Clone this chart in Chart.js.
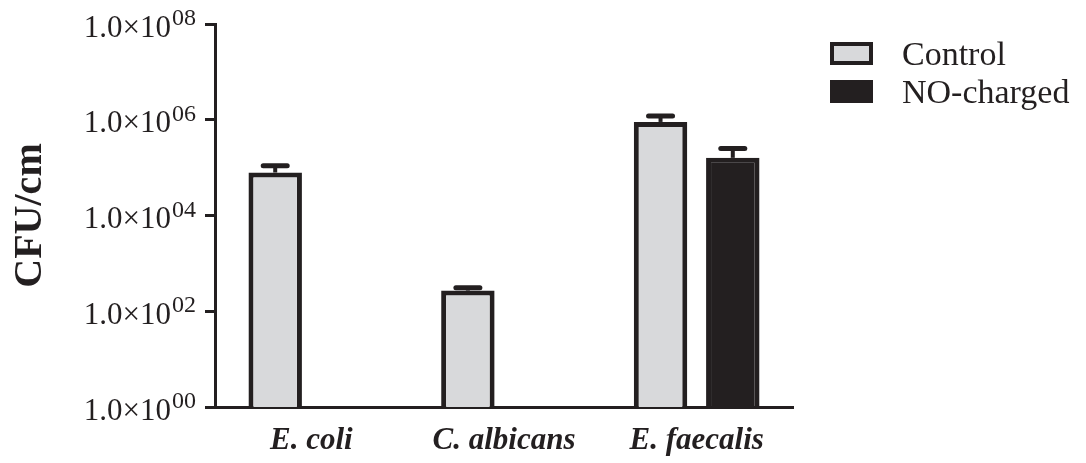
<!DOCTYPE html>
<html>
<head>
<meta charset="utf-8">
<script src="https://cdn.jsdelivr.net/npm/chart.js@4.4.1/dist/chart.umd.min.js"></script>
<style>
  html, body { margin: 0; padding: 0; background: #ffffff; }
  #wrap { width: 1086px; height: 463px; position: relative; }
</style>
</head>
<body>
<div id="wrap"><canvas id="chart"></canvas></div>
<script>
// Colony counts per cm (mean and error) for each organism
const categories = ['E. coli', 'C. albicans', 'E. faecalis'];
const seriesNames = ['Control', 'NO-charged'];
const controlMean = [7.9e4, 270, 9.0e5];
const controlErr = [3.1e4, 40, 3.0e5];
const noChargedMean = [null, null, 1.6e5];
const noChargedErr = [null, null, 9.0e4];
const tickValues = [1, 1e2, 1e4, 1e6, 1e8];
const tickExponents = ['00', '02', '04', '06', '08'];

const INK = '#231f20';
const GREY = '#d8d9db';
const SERIF = '"Liberation Serif", "Times New Roman", serif';

Chart.defaults.font.family = SERIF;
Chart.defaults.color = INK;

// Upper error whiskers with a rounded cap
const errorBars = {
  id: 'errorBars',
  afterDatasetsDraw(chart) {
    const ctx = chart.ctx;
    const ys = chart.scales.y;
    [controlErr, noChargedErr].forEach((errs, di) => {
      const meta = chart.getDatasetMeta(di);
      const means = chart.data.datasets[di].data;
      meta.data.forEach((bar, i) => {
        if (means[i] == null || errs[i] == null) return;
        const yTop = ys.getPixelForValue(means[i] + errs[i]);
        ctx.save();
        ctx.strokeStyle = INK;
        ctx.lineWidth = 4;
        ctx.beginPath();
        ctx.moveTo(bar.x, bar.y);
        ctx.lineTo(bar.x, yTop);
        ctx.stroke();
        ctx.lineWidth = 5;
        ctx.lineCap = 'round';
        ctx.beginPath();
        ctx.moveTo(bar.x - 12, yTop);
        ctx.lineTo(bar.x + 12, yTop);
        ctx.stroke();
        ctx.restore();
      });
    });
  }
};

// Scientific-notation tick labels with raised exponents
const sciTicks = {
  id: 'sciTicks',
  afterDraw(chart) {
    const ctx = chart.ctx;
    const ys = chart.scales.y;
    const right = ys.right - 19;
    ctx.save();
    ctx.fillStyle = INK;
    ctx.textAlign = 'right';
    ctx.textBaseline = 'alphabetic';
    tickValues.forEach((v, i) => {
      const py = ys.getPixelForValue(v);
      ctx.font = '24px ' + SERIF;
      const sup = tickExponents[i];
      const sw = ctx.measureText(sup).width;
      ctx.fillText(sup, right, py + 1);
      ctx.font = '31px ' + SERIF;
      ctx.fillText('1.0\u00d710', right - sw - 1, py + 12.5);
    });
    ctx.restore();
  }
};

// Legend drawn to the right of the plot
const sideLegend = {
  id: 'sideLegend',
  afterDraw(chart) {
    const ctx = chart.ctx;
    const x0 = chart.chartArea.right + 39;
    const rows = [44, 82];
    ctx.save();
    chart.data.datasets.forEach((ds, i) => {
      const y = rows[i];
      ctx.fillStyle = ds.backgroundColor;
      ctx.strokeStyle = ds.borderColor;
      ctx.lineWidth = 4;
      ctx.beginPath();
      ctx.rect(x0, y, 39, 19);
      ctx.fill();
      ctx.stroke();
      ctx.fillStyle = INK;
      ctx.font = '34px ' + SERIF;
      ctx.textAlign = 'left';
      ctx.textBaseline = 'alphabetic';
      ctx.fillText(ds.label, x0 + 70, y + 21);
    });
    ctx.restore();
  }
};

new Chart(document.getElementById('chart'), {
  type: 'bar',
  data: {
    labels: categories,
    datasets: [
      {
        label: seriesNames[0],
        data: controlMean,
        backgroundColor: GREY,
        borderColor: INK,
        borderWidth: 5,
        categoryPercentage: 0.75,
        barPercentage: 0.74
      },
      {
        label: seriesNames[1],
        data: noChargedMean,
        backgroundColor: INK,
        borderColor: INK,
        borderWidth: 5,
        categoryPercentage: 0.75,
        barPercentage: 0.74
      }
    ]
  },
  options: {
    responsive: true,
    maintainAspectRatio: false,
    devicePixelRatio: 1,
    animation: false,
    layout: { padding: { top: 24, left: 0, right: 293, bottom: 0 } },
    plugins: {
      legend: { display: false },
      tooltip: { enabled: false }
    },
    scales: {
      x: {
        afterFit(scale) { scale.height = 56; },
        grid: { display: false, drawTicks: false },
        border: { display: true, color: INK, width: 3 },
        ticks: {
          padding: 15,
          color: INK,
          font: { size: 31, weight: 'bold', style: 'italic' }
        }
      },
      y: {
        type: 'logarithmic',
        min: 1,
        max: 1e8,
        afterBuildTicks(scale) {
          scale.ticks = tickValues.map(v => ({ value: v }));
        },
        afterFit(scale) { scale.width = 215; },
        grid: {
          drawOnChartArea: false,
          drawTicks: true,
          tickLength: 10,
          tickWidth: 3,
          tickColor: INK,
          color: INK,
          lineWidth: 3
        },
        border: { display: true, color: INK, width: 3 },
        ticks: { display: false },
        title: {
          display: true,
          text: 'CFU/cm',
          color: INK,
          font: { size: 40, weight: 'bold' },
          padding: { top: 7, bottom: 0 }
        }
      }
    }
  },
  plugins: [errorBars, sciTicks, sideLegend]
});
</script>
</body>
</html>
